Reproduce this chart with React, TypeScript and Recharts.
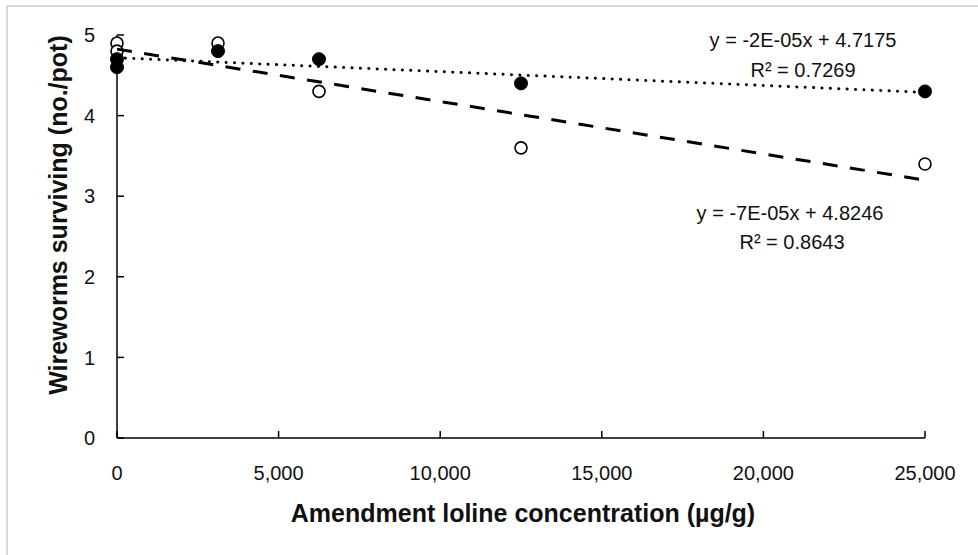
import React from 'react';
import { ScatterChart, Scatter, XAxis, YAxis } from 'recharts';

// Amendment loline concentration (µg/g)
const filledX = [0, 0, 3125, 6250, 12500, 25000];
const filledY = [4.6, 4.7, 4.8, 4.7, 4.4, 4.3];
const openX = [0, 0, 3125, 6250, 12500, 25000];
const openY = [4.9, 4.8, 4.9, 4.3, 3.6, 3.4];

const xTicks = [0, 5000, 10000, 15000, 20000, 25000];
const yTicks = [0, 1, 2, 3, 4, 5];

const filledEq = ['y = -2E-05x + 4.7175', 'R\u00B2 = 0.7269'];
const openEq = ['y = -7E-05x + 4.8246', 'R\u00B2 = 0.8643'];

const xTitle = 'Amendment loline concentration (\u00B5g/g)';
const yTitle = 'Wireworms surviving (no./pot)';

const toPoints = (xs: number[], ys: number[]) => xs.map((x, i) => ({ x, y: ys[i] }));

function fitLine(xs: number[], ys: number[]) {
  const n = xs.length;
  const mx = xs.reduce((a, b) => a + b, 0) / n;
  const my = ys.reduce((a, b) => a + b, 0) / n;
  let sxy = 0;
  let sxx = 0;
  xs.forEach((x, i) => {
    sxy += (x - mx) * (ys[i] - my);
    sxx += (x - mx) * (x - mx);
  });
  const b = sxy / sxx;
  const a = my - b * mx;
  const x0 = Math.min(...xs);
  const x1 = Math.max(...xs);
  return [
    { x: x0, y: a + b * x0 },
    { x: x1, y: a + b * x1 },
  ];
}

const filledData = toPoints(filledX, filledY);
const openData = toPoints(openX, openY);
const filledTrend = fitLine(filledX, filledY);
const openTrend = fitLine(openX, openY);

const FONT = '"Liberation Sans", Arial, sans-serif';
const TXT = '#111';

const FilledDot = (p: any) => <circle cx={p.cx} cy={p.cy} r={6.5} fill="#000" stroke="#000" strokeWidth={1} />;
const OpenDot = (p: any) => <circle cx={p.cx} cy={p.cy} r={6} fill="#fff" stroke="#000" strokeWidth={1.6} />;
const NoDot = () => <g />;

export default function App() {
  return (
    <div style={{ position: 'absolute', left: 0, top: 0, width: 978, height: 555, overflow: 'hidden', background: '#fff' }}>
      <div
        style={{
          position: 'absolute',
          left: 6,
          top: 5,
          width: 1100,
          height: 700,
          borderTop: '2px solid #d9d9d9',
          borderLeft: '2px solid #d9d9d9',
        }}
      />
      <ScatterChart
        width={978}
        height={555}
        margin={{ top: 35, right: 53, bottom: 0, left: 0 }}
        style={{ position: 'absolute', left: 0, top: 0, fontFamily: FONT }}
      >
        <XAxis
          type="number"
          dataKey="x"
          domain={[0, 25000]}
          ticks={xTicks}
          height={117}
          tickFormatter={(v: number) => v.toLocaleString('en-US')}
          axisLine={{ stroke: '#000', strokeWidth: 1.5 }}
          tickLine={{ stroke: '#000', strokeWidth: 1.5 }}
          tickSize={-7}
          tickMargin={35}
          tick={{ fill: TXT, fontSize: 20, fontFamily: FONT }}
          label={{
            content: () => (
              <text x={523} y={522} textAnchor="middle" fontSize={25} fontWeight="bold" fill={TXT} fontFamily={FONT}>
                {xTitle}
              </text>
            ),
          }}
        />
        <YAxis
          type="number"
          dataKey="y"
          domain={[0, 5]}
          ticks={yTicks}
          width={117}
          axisLine={{ stroke: '#000', strokeWidth: 1.5 }}
          tickLine={{ stroke: '#000', strokeWidth: 1.5 }}
          tickSize={-7}
          tickMargin={29}
          tick={{ fill: TXT, fontSize: 20, fontFamily: FONT }}
          label={{
            content: () => (
              <text
                x={67}
                y={215}
                transform="rotate(-90, 67, 215)"
                textAnchor="middle"
                fontSize={25}
                fontWeight="bold"
                fill={TXT}
                fontFamily={FONT}
              >
                {yTitle}
              </text>
            ),
          }}
        />
        <Scatter data={openData} shape={OpenDot} isAnimationActive={false} />
        <Scatter data={filledData} shape={FilledDot} isAnimationActive={false} />
        <Scatter
          data={filledTrend}
          shape={NoDot}
          line={{ stroke: '#000', strokeWidth: 3, strokeDasharray: '0.1 8.3', strokeLinecap: 'round' }}
          isAnimationActive={false}
        />
        <Scatter
          data={openTrend}
          shape={NoDot}
          line={{ stroke: '#000', strokeWidth: 3, strokeDasharray: '15 12.5' }}
          isAnimationActive={false}
        />
      </ScatterChart>
      <svg width={978} height={555} style={{ position: 'absolute', left: 0, top: 0, pointerEvents: 'none' }}>
        <g fontFamily={FONT} fontSize={20} fill={TXT} textAnchor="middle">
          <text x={803} y={47}>{filledEq[0]}</text>
          <text x={803} y={77}>{filledEq[1]}</text>
          <text x={790} y={220}>{openEq[0]}</text>
          <text x={792} y={249}>{openEq[1]}</text>
        </g>
      </svg>
    </div>
  );
}
